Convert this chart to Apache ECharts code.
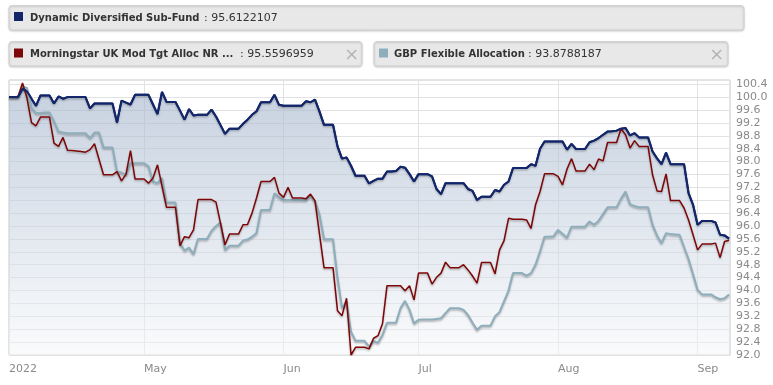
<!DOCTYPE html>
<html><head><meta charset="utf-8">
<script src="https://cdn.jsdelivr.net/npm/echarts@6/dist/echarts.min.js"></script>
<style>html,body{margin:0;padding:0;background:#fff}#c{width:773px;height:385px}</style>
</head><body><div id="c"></div>
<script>
// Daily series from 2022-04-01 (weekends carry prior close)
const startDate = [2022, 3, 1];
const seriesNames = ['Dynamic Diversified Sub-Fund', 'Morningstar UK Mod Tgt Alloc NR ...', 'GBP Flexible Allocation'];
const legendValues = ['95.6122107', '95.5596959', '93.8788187'];
const monthLabels = ['Jan','Feb','Mar','2022','May','Jun','Jul','Aug','Sep','Oct','Nov','Dec'];
const yTicks = {min: 92.0, max: 100.53, interval: 0.4};

const fundValues = [
100.00,100.00,100.00,100.26,100.18,99.95,99.73,100.05,100.05,100.05,
99.80,100.02,99.95,100.00,100.00,100.00,100.00,100.00,99.65,99.80,
99.80,99.80,99.80,99.80,99.21,99.89,99.83,99.77,100.07,100.07,
100.07,100.07,99.77,99.47,100.16,99.85,99.85,99.85,99.58,99.30,
99.63,99.43,99.45,99.45,99.45,99.61,99.40,99.13,98.86,99.02,
99.02,99.02,99.17,99.30,99.45,99.56,99.84,99.84,99.84,100.07,
99.76,99.73,99.73,99.73,99.73,99.73,99.87,99.84,99.92,99.55,
99.14,99.14,99.14,98.47,98.09,98.13,97.87,97.56,97.56,97.56,
97.32,97.40,97.47,97.47,97.69,97.69,97.71,97.84,97.81,97.61,
97.38,97.61,97.61,97.61,97.54,97.15,96.99,97.33,97.33,97.33,
97.33,97.33,97.15,97.09,96.81,96.91,96.91,96.91,97.12,97.07,
97.28,97.38,97.80,97.80,97.80,97.80,97.92,97.87,98.40,98.62,
98.62,98.62,98.62,98.62,98.37,98.55,98.39,98.39,98.39,98.60,
98.65,98.73,98.83,98.93,98.94,98.96,99.02,99.04,98.81,98.88,
98.75,98.75,98.75,98.31,98.10,97.92,98.28,97.92,97.92,97.92,
97.92,97.02,96.66,96.04,96.16,96.16,96.16,96.11,95.73,95.71,
95.61];

const indexValues = [
100.00,100.00,100.00,100.44,99.97,99.21,99.11,99.38,99.38,99.38,
98.57,98.47,98.75,98.35,98.34,98.33,98.31,98.29,98.37,98.55,
98.07,97.59,97.59,97.59,97.69,97.40,97.61,98.34,97.46,97.46,
97.46,97.33,97.49,97.90,97.24,96.58,96.58,96.58,95.39,95.67,
95.64,95.88,96.82,96.82,96.82,96.82,96.74,96.08,95.42,95.75,
95.75,95.75,96.04,96.05,96.40,96.87,97.38,97.38,97.38,97.51,
97.02,96.89,97.20,96.87,96.87,96.87,96.85,96.99,96.78,95.75,
94.71,94.71,94.71,93.37,93.22,93.76,92.00,92.24,92.24,92.24,
92.19,92.52,92.60,92.98,94.15,94.15,94.15,94.15,93.99,94.15,
93.71,94.54,94.54,94.54,94.20,94.41,94.54,94.88,94.71,94.71,
94.71,94.80,94.64,94.45,94.23,94.87,94.87,94.87,94.52,95.26,
95.55,96.24,96.21,96.21,96.21,96.19,95.93,96.66,97.07,97.62,
97.62,97.62,97.54,97.28,97.77,98.09,97.71,97.71,97.71,97.92,
97.75,98.08,98.02,98.59,98.59,98.59,99.02,98.83,98.42,98.65,
98.47,98.47,98.47,97.59,97.09,97.07,97.62,96.79,96.79,96.79,
96.56,96.19,95.73,95.26,95.44,95.44,95.44,95.47,95.02,95.52,
95.56];

const sectorValues = [
100.00,100.00,100.00,100.33,100.28,99.66,99.51,99.51,99.52,99.52,
99.25,98.93,98.90,98.88,98.88,98.88,98.88,98.88,98.73,98.90,
98.90,98.44,98.44,98.44,97.69,97.66,97.59,97.95,97.95,97.95,
97.95,97.85,97.38,97.33,97.49,96.73,96.73,96.73,95.47,95.24,
95.33,95.13,95.60,95.60,95.60,95.85,96.00,96.11,95.26,95.39,
95.39,95.39,95.55,95.58,95.67,95.78,96.50,96.50,96.50,97.02,
96.89,96.81,96.81,96.81,96.81,96.81,96.81,96.95,96.78,96.35,
95.59,95.59,95.59,94.38,93.45,93.66,92.72,92.44,92.44,92.44,
92.26,92.43,92.38,92.62,93.00,93.00,93.00,93.45,93.68,93.40,
92.98,93.09,93.10,93.10,93.10,93.12,93.14,93.30,93.45,93.45,
93.45,93.40,93.24,93.00,92.78,92.91,92.91,92.91,93.20,93.33,
93.66,93.99,94.54,94.54,94.54,94.46,94.54,94.80,95.21,95.67,
95.67,95.68,95.88,95.76,95.64,95.98,95.98,95.98,95.98,96.14,
96.04,96.16,96.37,96.58,96.58,96.58,96.85,97.07,96.68,96.62,
96.58,96.58,96.58,96.04,95.70,95.47,95.78,95.75,95.74,95.73,
95.35,94.97,94.50,94.02,93.88,93.88,93.88,93.79,93.73,93.76,
93.88];

const DAY = 864e5;
const t0 = Date.UTC(startDate[0], startDate[1], startDate[2]);
const dates = fundValues.map((_, i) => t0 + i * DAY);
const pair = arr => arr.map((v, i) => [dates[i], v]);

const colors = ['#13266a', '#7d0606', '#8eaebb'];
const FONT = '"DejaVu Sans", Verdana, sans-serif';

const chart = echarts.init(document.getElementById('c'), null, {renderer: 'canvas'});

function box(x, y, w, h) {
  return {type: 'rect', shape: {x, y, width: w, height: h, r: 3},
    style: {fill: '#e8e8e8', stroke: '#d2d2d2', lineWidth: 1, shadowColor: 'rgba(0,0,0,0.18)', shadowBlur: 2, shadowOffsetY: 1}, z: 10};
}
function sq(x, y, c) { return {type: 'rect', shape: {x, y, width: 9, height: 9}, style: {fill: c}, z: 11}; }
function txt(x, y, t, bold) {
  return {type: 'text', x, y, style: {text: t, fill: '#333', font: (bold ? 'bold 10px ' : '11px ') + FONT, verticalAlign: 'middle'}, z: 11};
}
function cross(cx, cy) {
  const s = 4.5;
  return [
    {type: 'line', shape: {x1: cx - s, y1: cy - s, x2: cx + s, y2: cy + s}, style: {stroke: '#b4b4b4', lineWidth: 1.6}, z: 11},
    {type: 'line', shape: {x1: cx - s, y1: cy + s, x2: cx + s, y2: cy - s}, style: {stroke: '#b4b4b4', lineWidth: 1.6}, z: 11}
  ];
}

const lineShadow = {shadowColor: 'rgba(0,0,0,0.28)', shadowBlur: 2, shadowOffsetY: 1.5};

chart.setOption({
  useUTC: true,
  animation: false,
  grid: {left: 9, right: 43, top: 80, bottom: 30, show: true, borderColor: '#c9c9c9', borderWidth: 1, backgroundColor: 'transparent'},
  xAxis: {
    type: 'time',
    min: t0,
    max: Date.UTC(2022, 8, 8, 5),
    minInterval: 28 * DAY,
    maxInterval: 31 * DAY,
    axisLine: {show: false},
    axisTick: {show: false},
    splitLine: {show: true, lineStyle: {color: '#e2e2e2', width: 1}},
    axisLabel: {
      color: '#8a8a8a', fontFamily: FONT, fontSize: 11, margin: 9, align: 'left',
      hideOverlap: false, showMaxLabel: false,
      formatter: function (v) {
        const d = new Date(v);
        if (d.getUTCDate() !== 1) return '';
        return monthLabels[d.getUTCMonth()];
      }
    }
  },
  yAxis: {
    type: 'value', position: 'right',
    min: yTicks.min, max: yTicks.max, interval: yTicks.interval,
    axisLine: {show: false}, axisTick: {show: false},
    splitLine: {show: true, lineStyle: {color: '#e2e2e2', width: 1}},
    axisLabel: {
      color: '#8a8a8a', fontFamily: FONT, fontSize: 11, margin: 6,
      formatter: v => (v > 100.45 ? '' : v.toFixed(1))
    }
  },
  series: [
    {name: seriesNames[0], type: 'line', data: pair(fundValues), symbol: 'none', z: 2,
      lineStyle: {color: colors[0], width: 2, ...lineShadow},
      areaStyle: {origin: 'start', color: new echarts.graphic.LinearGradient(0, 0, 0, 1, [
        {offset: 0, color: 'rgba(163,180,203,0.88)'},
        {offset: 0.5, color: 'rgba(200,211,225,0.8)'},
        {offset: 1, color: 'rgba(244,246,249,0.7)'}])}},
    {name: seriesNames[2], type: 'line', data: pair(sectorValues), symbol: 'none', z: 3,
      lineStyle: {color: colors[2], width: 2, ...lineShadow}},
    {name: seriesNames[1], type: 'line', data: pair(indexValues), symbol: 'none', z: 4,
      lineStyle: {color: colors[1], width: 1.5, ...lineShadow}},
    {name: seriesNames[0] + ' line', type: 'line', data: pair(fundValues), symbol: 'none', z: 5,
      lineStyle: {color: colors[0], width: 2}}
  ],
  graphic: {elements: [
    box(9, 5.5, 735, 24.5), sq(14, 12, colors[0]), txt(30, 18, seriesNames[0], true), txt(204, 18, ': ' + legendValues[0], false),
    box(9, 41.5, 353, 24.5), sq(14, 48.5, colors[1]), txt(30, 54, seriesNames[1], true), txt(240, 54, ': ' + legendValues[1], false),
    ...cross(351.7, 54.5),
    box(374, 41.5, 354, 24.5), sq(379, 48.5, colors[2]), txt(394, 54, seriesNames[2], true), txt(528, 54, ': ' + legendValues[2], false),
    ...cross(716.7, 54.5)
  ]}
});
</script></body></html>
